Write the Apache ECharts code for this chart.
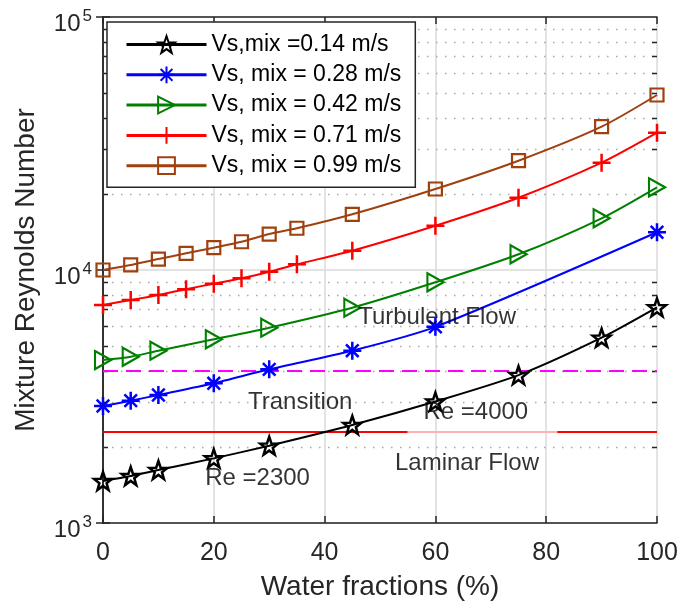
<!DOCTYPE html>
<html><head><meta charset="utf-8">
<script src="https://cdn.jsdelivr.net/npm/echarts@6/dist/echarts.min.js"></script>
<style>html,body{margin:0;padding:0;background:#fff}#c{width:678px;height:608px}</style>
</head><body><div id="c"></div>
<script>
// ---- data ----
const seriesNames = ['Vs,mix =0.14 m/s', 'Vs, mix = 0.28 m/s', 'Vs, mix = 0.42 m/s', 'Vs, mix = 0.71 m/s', 'Vs, mix = 0.99 m/s'];
const xBlack = [0, 5, 10, 20, 30, 45, 60, 75, 90, 100];
const yBlack = [1466, 1534, 1620, 1801, 2021, 2440, 3020, 3840, 5400, 7120];
const xBlue = [0, 5, 10, 20, 30, 45, 60, 100];
const yBlue = [2900, 3044, 3206, 3566, 4050, 4798, 5960, 14100];
const xGreen = [0, 5, 10, 20, 30, 45, 60, 75, 90, 100];
const yGreen = [4406, 4540, 4798, 5322, 5915, 7096, 8940, 11540, 16010, 21230];
const xRed = [0, 5, 10, 15, 20, 25, 30, 35, 45, 60, 75, 90, 100];
const yRed = [7271, 7610, 7965, 8400, 8830, 9270, 9840, 10530, 11920, 14960, 19310, 26550, 34890];
const xBrown = [0, 5, 10, 15, 20, 25, 30, 35, 45, 60, 75, 90, 100];
const yBrown = [10000, 10470, 11050, 11640, 12250, 12930, 13870, 14620, 16600, 20900, 27040, 36860, 49170];
const thresholdRe = [4000, 2300];
const annotationTexts = ['Turbulent Flow', 'Transition', 'Re =4000', 'Laminar Flow', 'Re =2300'];
const annotationX = [60.3, 35.6, 67.3, 65.7, 27.9];
const annotationY = [6480, 3010, 2740, 1720, 1495];
const xTicks = [0, 20, 40, 60, 80, 100];
const yDecades = [1000, 10000, 100000];

// ---- styling ----
const FONT = 'Liberation Sans, Arial, sans-serif';
const AX = '#262626';
const colors = ['#000000', '#0000ff', '#008000', '#ff0000', '#a0400f'];
const symbols = [
  'path://M0,-10L2.35,-3.24L9.51,-3.09L3.8,1.24L5.88,8.09L0,4L-5.88,8.09L-3.8,1.24L-9.51,-3.09L-2.35,-3.24Z',
  'path://M0,-10L0,10M-10,0L10,0M-7,-7L7,7M-7,7L7,-7',
  'path://M-8,-9L9,0L-8,9Z',
  'path://M0,-10L0,10M-10,0L10,0',
  'rect'
];
const symbolSizes = [18, 18, [16, 18], 18, 13];
const symbolStrokes = [2.5, 2.5, 2.2, 2.5, 2.2];

const xs = [xBlack, xBlue, xGreen, xRed, xBrown];
const ys = [yBlack, yBlue, yGreen, yRed, yBrown];

const minorVals = [];
for (let i = 0; i < yDecades.length - 1; i++) {
  for (let k = 2; k <= 9; k++) minorVals.push(k * yDecades[i]);
}

const dataSeries = seriesNames.map((name, i) => ({
  name,
  type: 'line',
  xAxisIndex: 0, yAxisIndex: 0,
  data: xs[i].map((x, j) => [x, ys[i][j]]),
  smooth: 0.25,
  symbol: symbols[i],
  symbolSize: symbolSizes[i],
  showAllSymbol: true,
  lineStyle: { color: colors[i], width: 2 },
  itemStyle: { color: 'rgba(255,255,255,0)', borderColor: colors[i], borderWidth: symbolStrokes[i] },
  emphasis: { disabled: true },
  z: 5 + i
}));

const minorSeries = {
  type: 'custom',
  name: 'minor',
  xAxisIndex: 0, yAxisIndex: 0,
  silent: true,
  clip: false,
  z: 1,
  data: minorVals.map(v => [0, v]),
  renderItem: (params, api) => {
    const cs = params.coordSys;
    const y = Math.round(api.coord([0, api.value(1)])[1]) + 0.5;
    return {
      type: 'group',
      children: [
        { type: 'line', shape: { x1: cs.x, y1: y, x2: cs.x + cs.width, y2: y },
          style: { stroke: '#a8a8a8', lineWidth: 1.5, lineDash: [1.5, 7.5] } },
        { type: 'line', shape: { x1: cs.x, y1: y, x2: cs.x + 5, y2: y },
          style: { stroke: AX, lineWidth: 1.5 } },
        { type: 'line', shape: { x1: cs.x + cs.width - 5, y1: y, x2: cs.x + cs.width, y2: y },
          style: { stroke: AX, lineWidth: 1.5 } }
      ]
    };
  }
};

// the Re=2300 line is partly faded behind the text boxes in the original
const fadeFrom = 55, fadeTo = 82;
const thresholdSeries = {
  type: 'line',
  name: 'thresholds',
  xAxisIndex: 0, yAxisIndex: 0,
  data: [],
  silent: true,
  z: 3,
  markLine: {
    silent: true,
    symbol: ['none', 'none'],
    label: { show: false },
    data: [
      { yAxis: thresholdRe[0], lineStyle: { color: '#ff00ff', width: 2, type: [15, 8] } },
      [{ coord: [0, thresholdRe[1]], lineStyle: { color: '#ff0000', width: 2, type: 'solid' } }, { coord: [fadeFrom, thresholdRe[1]] }],
      [{ coord: [fadeFrom, thresholdRe[1]], lineStyle: { color: '#ffb0b0', width: 2, type: 'solid' } }, { coord: [fadeTo, thresholdRe[1]] }],
      [{ coord: [fadeTo, thresholdRe[1]], lineStyle: { color: '#ff0000', width: 2, type: 'solid' } }, { coord: [100, thresholdRe[1]] }]
    ]
  }
};

const annotationSeries = {
  type: 'scatter',
  name: 'annotations',
  xAxisIndex: 0, yAxisIndex: 0,
  symbolSize: 0,
  silent: true,
  z: 20,
  data: annotationTexts.map((t, i) => ({ value: [annotationX[i], annotationY[i]], name: t })),
  label: {
    show: true, position: 'inside', formatter: p => p.name,
    fontFamily: FONT, fontSize: 24, color: '#000'
  }
};

const chart = echarts.init(document.getElementById('c'), null, { renderer: 'canvas' });
chart.setOption({
  animation: false,
  backgroundColor: '#fff',
  grid: { left: 103, right: 21, top: 17, bottom: 85, containLabel: false, outerBoundsMode: 'none' },
  legend: {
    data: seriesNames,
    orient: 'vertical',
    left: 107, top: 22,
    padding: [11, 14, 10, 18],
    itemWidth: 80, itemHeight: 21, itemGap: 7.3,
    backgroundColor: '#fff',
    borderColor: AX, borderWidth: 1.5,
    textStyle: { fontFamily: FONT, fontSize: 23, color: '#000' },
    lineStyle: { width: 3 },
    selectedMode: false
  },
  xAxis: [
    {
      type: 'value', min: 0, max: 100, interval: 20, position: 'bottom',
      name: 'Water fractions (%)', nameLocation: 'middle', nameGap: 50,
      nameTextStyle: { fontFamily: FONT, fontSize: 28, color: AX },
      axisLine: { show: true, lineStyle: { color: AX, width: 1.5 } },
      axisTick: { show: true, inside: true, length: 7, lineStyle: { color: AX, width: 1.5 } },
      axisLabel: { fontFamily: FONT, fontSize: 25, color: AX, margin: 18 },
      splitLine: { show: true, lineStyle: { color: '#dadada', width: 1.5 } }
    },
    {
      type: 'value', min: 0, max: 100, interval: 20, position: 'top',
      axisLine: { show: true, onZero: false, lineStyle: { color: AX, width: 1.5 } },
      axisTick: { show: true, inside: true, length: 7, lineStyle: { color: AX, width: 1.5 } },
      axisLabel: { show: false },
      splitLine: { show: false }
    }
  ],
  yAxis: [
    {
      type: 'log', logBase: 10, min: yDecades[0], max: yDecades[yDecades.length - 1], interval: 1,
      position: 'left',
      name: 'Mixture Reynolds Number', nameLocation: 'middle', nameGap: 63,
      nameTextStyle: { fontFamily: FONT, fontSize: 28, color: AX },
      axisLine: { show: true, lineStyle: { color: AX, width: 1.5 } },
      axisTick: { show: true, inside: true, length: 7, lineStyle: { color: AX, width: 1.5 } },
      axisLabel: {
        margin: 11,
        formatter: v => '{b|10}{s|' + Math.round(Math.log10(v)) + '}',
        rich: {
          b: { fontFamily: FONT, fontSize: 24, color: AX, padding: [14, 0, 0, 0] },
          s: { fontFamily: FONT, fontSize: 17, color: AX, padding: [0, 0, 2, 2] }
        }
      },
      splitLine: { show: true, lineStyle: { color: '#dadada', width: 1.5 } }
    },
    {
      type: 'log', logBase: 10, min: yDecades[0], max: yDecades[yDecades.length - 1], interval: 1,
      position: 'right',
      axisLine: { show: true, lineStyle: { color: AX, width: 1.5 } },
      axisTick: { show: true, inside: true, length: 7, lineStyle: { color: AX, width: 1.5 } },
      axisLabel: { show: false },
      splitLine: { show: false }
    }
  ],
  series: [minorSeries, thresholdSeries, annotationSeries].concat(dataSeries)
});
</script>
</body></html>
